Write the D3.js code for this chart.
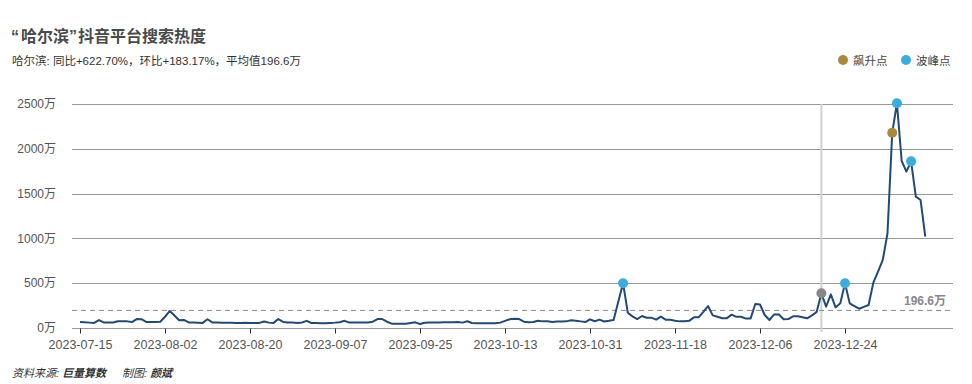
<!DOCTYPE html>
<html>
<head>
<meta charset="utf-8">
<script src="https://cdn.jsdelivr.net/npm/d3@7"></script>
<style>
  body { margin: 0; background: #fff; }
  svg { display: block; font-family: "Liberation Sans", "Noto Sans CJK SC", sans-serif; }
</style>
</head>
<body>
<svg id="chart" width="972" height="384"></svg>
<script>
// data: daily search heat (万), starting 2023-07-15
const startDate = '2023-07-15';
const heat = [
  67, 63, 60, 57, 88, 62, 60, 62, 76, 76,
  74, 66, 100, 98, 68, 67, 67, 70, 125, 190,
  140, 86, 90, 62, 60, 58, 57, 98, 62, 60,
  59, 58, 58, 57, 57, 58, 57, 56, 57, 72,
  60, 57, 100, 68, 62, 60, 57, 62, 80, 56,
  55, 52, 53, 57, 60, 65, 80, 62, 60, 60,
  60, 62, 70, 100, 100, 70, 48, 48, 48, 48,
  55, 63, 45, 58, 60, 60, 62, 63, 63, 64,
  66, 60, 75, 56, 52, 52, 52, 52, 53, 60,
  80, 97, 104, 100, 70, 65, 66, 80, 74, 76,
  66, 72, 72, 74, 86, 80, 74, 66, 97, 75,
  93, 72, 80, 90, 295, 500, 171, 130, 100, 134,
  115, 115, 93, 126, 93, 93, 80, 74, 76, 80,
  119, 119, 180, 245, 141, 125, 108, 110, 149, 125,
  125, 105, 105, 268, 262, 145, 89, 152, 150, 97,
  100, 130, 130, 120, 108, 140, 180, 387, 238, 376,
  230, 275, 500, 275, 245, 215, 236, 257, 506, 630,
  759, 1057, 2180, 2508, 1864, 1745, 1860, 1466, 1429, 1019
];
const average = 196.6;
const surgeDates = ['2024-01-03'];
const peakDates = ['2023-11-07', '2023-12-24', '2024-01-04', '2024-01-07'];
const markerDate = '2023-12-19';
const yTicks = [0, 500, 1000, 1500, 2000, 2500];
const xTickLabels = ['2023-07-15', '2023-08-02', '2023-08-20', '2023-09-07', '2023-09-25',
  '2023-10-13', '2023-10-31', '2023-11-18', '2023-12-06', '2023-12-24'];

const parse = d3.timeParse('%Y-%m-%d');
const t0 = parse(startDate);
const rows = heat.map((v, i) => ({ date: d3.timeDay.offset(t0, i), value: v }));
const findRow = s => rows.find(r => +r.date === +parse(s));

const svg = d3.select('#chart');
const plotLeft = 72, plotRight = 953, plotTop = 104, plotBottom = 328;

const x = d3.scaleTime()
  .domain([rows[0].date, rows[rows.length - 1].date])
  .range([80, 80 + (rows.length - 1) * 85 / 18]);
const y = d3.scaleLinear().domain([0, 2500]).range([plotBottom, plotTop]);

// title
const title = svg.append('text').attr('x', 11).attr('y', 42)
  .attr('font-size', 16).attr('font-weight', 'bold').attr('fill', '#4a4a4a');
title.append('tspan').text('“');
title.append('tspan').attr('dx', 2).text('哈尔滨');
title.append('tspan').text('”');
title.append('tspan').attr('dx', 1).text('抖音平台搜索热度');
svg.append('text').attr('x', 12).attr('y', 65)
  .attr('font-size', 11.5).attr('fill', '#333')
  .text('哈尔滨: 同比+622.70%，环比+183.17%，平均值196.6万');

// legend
const legend = [{ label: '飙升点', color: '#a88a3a', x: 843 }, { label: '波峰点', color: '#3aade0', x: 906 }];
legend.forEach(l => {
  svg.append('circle').attr('cx', l.x).attr('cy', 60).attr('r', 5).attr('fill', l.color);
  svg.append('text').attr('x', l.x + 10).attr('y', 64.5)
    .attr('font-size', 11.5).attr('fill', '#444').text(l.label);
});

// grid + y labels
svg.append('g').selectAll('line').data(yTicks).join('line')
  .attr('x1', plotLeft).attr('x2', plotRight)
  .attr('y1', d => Math.round(y(d)) + 0.5).attr('y2', d => Math.round(y(d)) + 0.5)
  .attr('stroke', '#999').attr('stroke-width', 1);
svg.append('g').selectAll('text').data(yTicks).join('text')
  .attr('x', 56).attr('y', d => y(d)).attr('dy', '0.35em')
  .attr('text-anchor', 'end').attr('font-size', 12).attr('fill', '#555')
  .text(d => d + '万');

// x axis ticks
const xAxis = d3.axisBottom(x)
  .tickValues(xTickLabels.map(parse))
  .tickFormat(d3.timeFormat('%Y-%m-%d'))
  .tickSize(5).tickPadding(7);
const gx = svg.append('g').attr('transform', `translate(0,${Math.round(plotBottom) + 0.5})`).call(xAxis);
gx.select('.domain').remove();
gx.selectAll('line').attr('stroke', '#333');
gx.selectAll('text').attr('font-size', 12.5).attr('fill', '#555')
  .attr('font-family', '"Liberation Sans", sans-serif');

// vertical marker line
const md = parse(markerDate);
svg.append('line').attr('x1', x(md)).attr('x2', x(md))
  .attr('y1', plotTop).attr('y2', plotBottom + 4)
  .attr('stroke', '#d0d0d0').attr('stroke-width', 2);

// average line
svg.append('line').attr('x1', plotLeft).attr('x2', plotRight)
  .attr('y1', y(average)).attr('y2', y(average))
  .attr('stroke', '#888').attr('stroke-width', 1).attr('stroke-dasharray', '5,4');
svg.append('text').attr('x', 946).attr('y', y(average) - 5)
  .attr('text-anchor', 'end').attr('font-size', 12).attr('font-weight', 'bold')
  .attr('fill', '#888').text(average + '万');

// line
svg.append('path').datum(rows)
  .attr('fill', 'none').attr('stroke', '#1f4a7a').attr('stroke-width', 2)
  .attr('stroke-linejoin', 'round')
  .attr('d', d3.line().x(d => x(d.date)).y(d => y(d.value)));

// dots
const dots = [
  ...surgeDates.map(s => ({ row: findRow(s), color: '#a88a3a' })),
  ...peakDates.map(s => ({ row: findRow(s), color: '#3aade0' })),
  { row: findRow(markerDate), color: '#888888' }
];
svg.append('g').selectAll('circle').data(dots).join('circle')
  .attr('cx', d => x(d.row.date)).attr('cy', d => y(d.row.value))
  .attr('r', 5).attr('fill', d => d.color);

// footer
const foot = svg.append('text').attr('x', 12).attr('y', 377)
  .attr('font-size', 11).attr('fill', '#333').attr('font-style', 'italic');
foot.append('tspan').text('资料来源: ');
foot.append('tspan').attr('font-weight', 'bold').text('巨量算数');
foot.append('tspan').attr('x', 122).text('制图: ');
foot.append('tspan').attr('font-weight', 'bold').text('颜斌');
</script>
</body>
</html>
